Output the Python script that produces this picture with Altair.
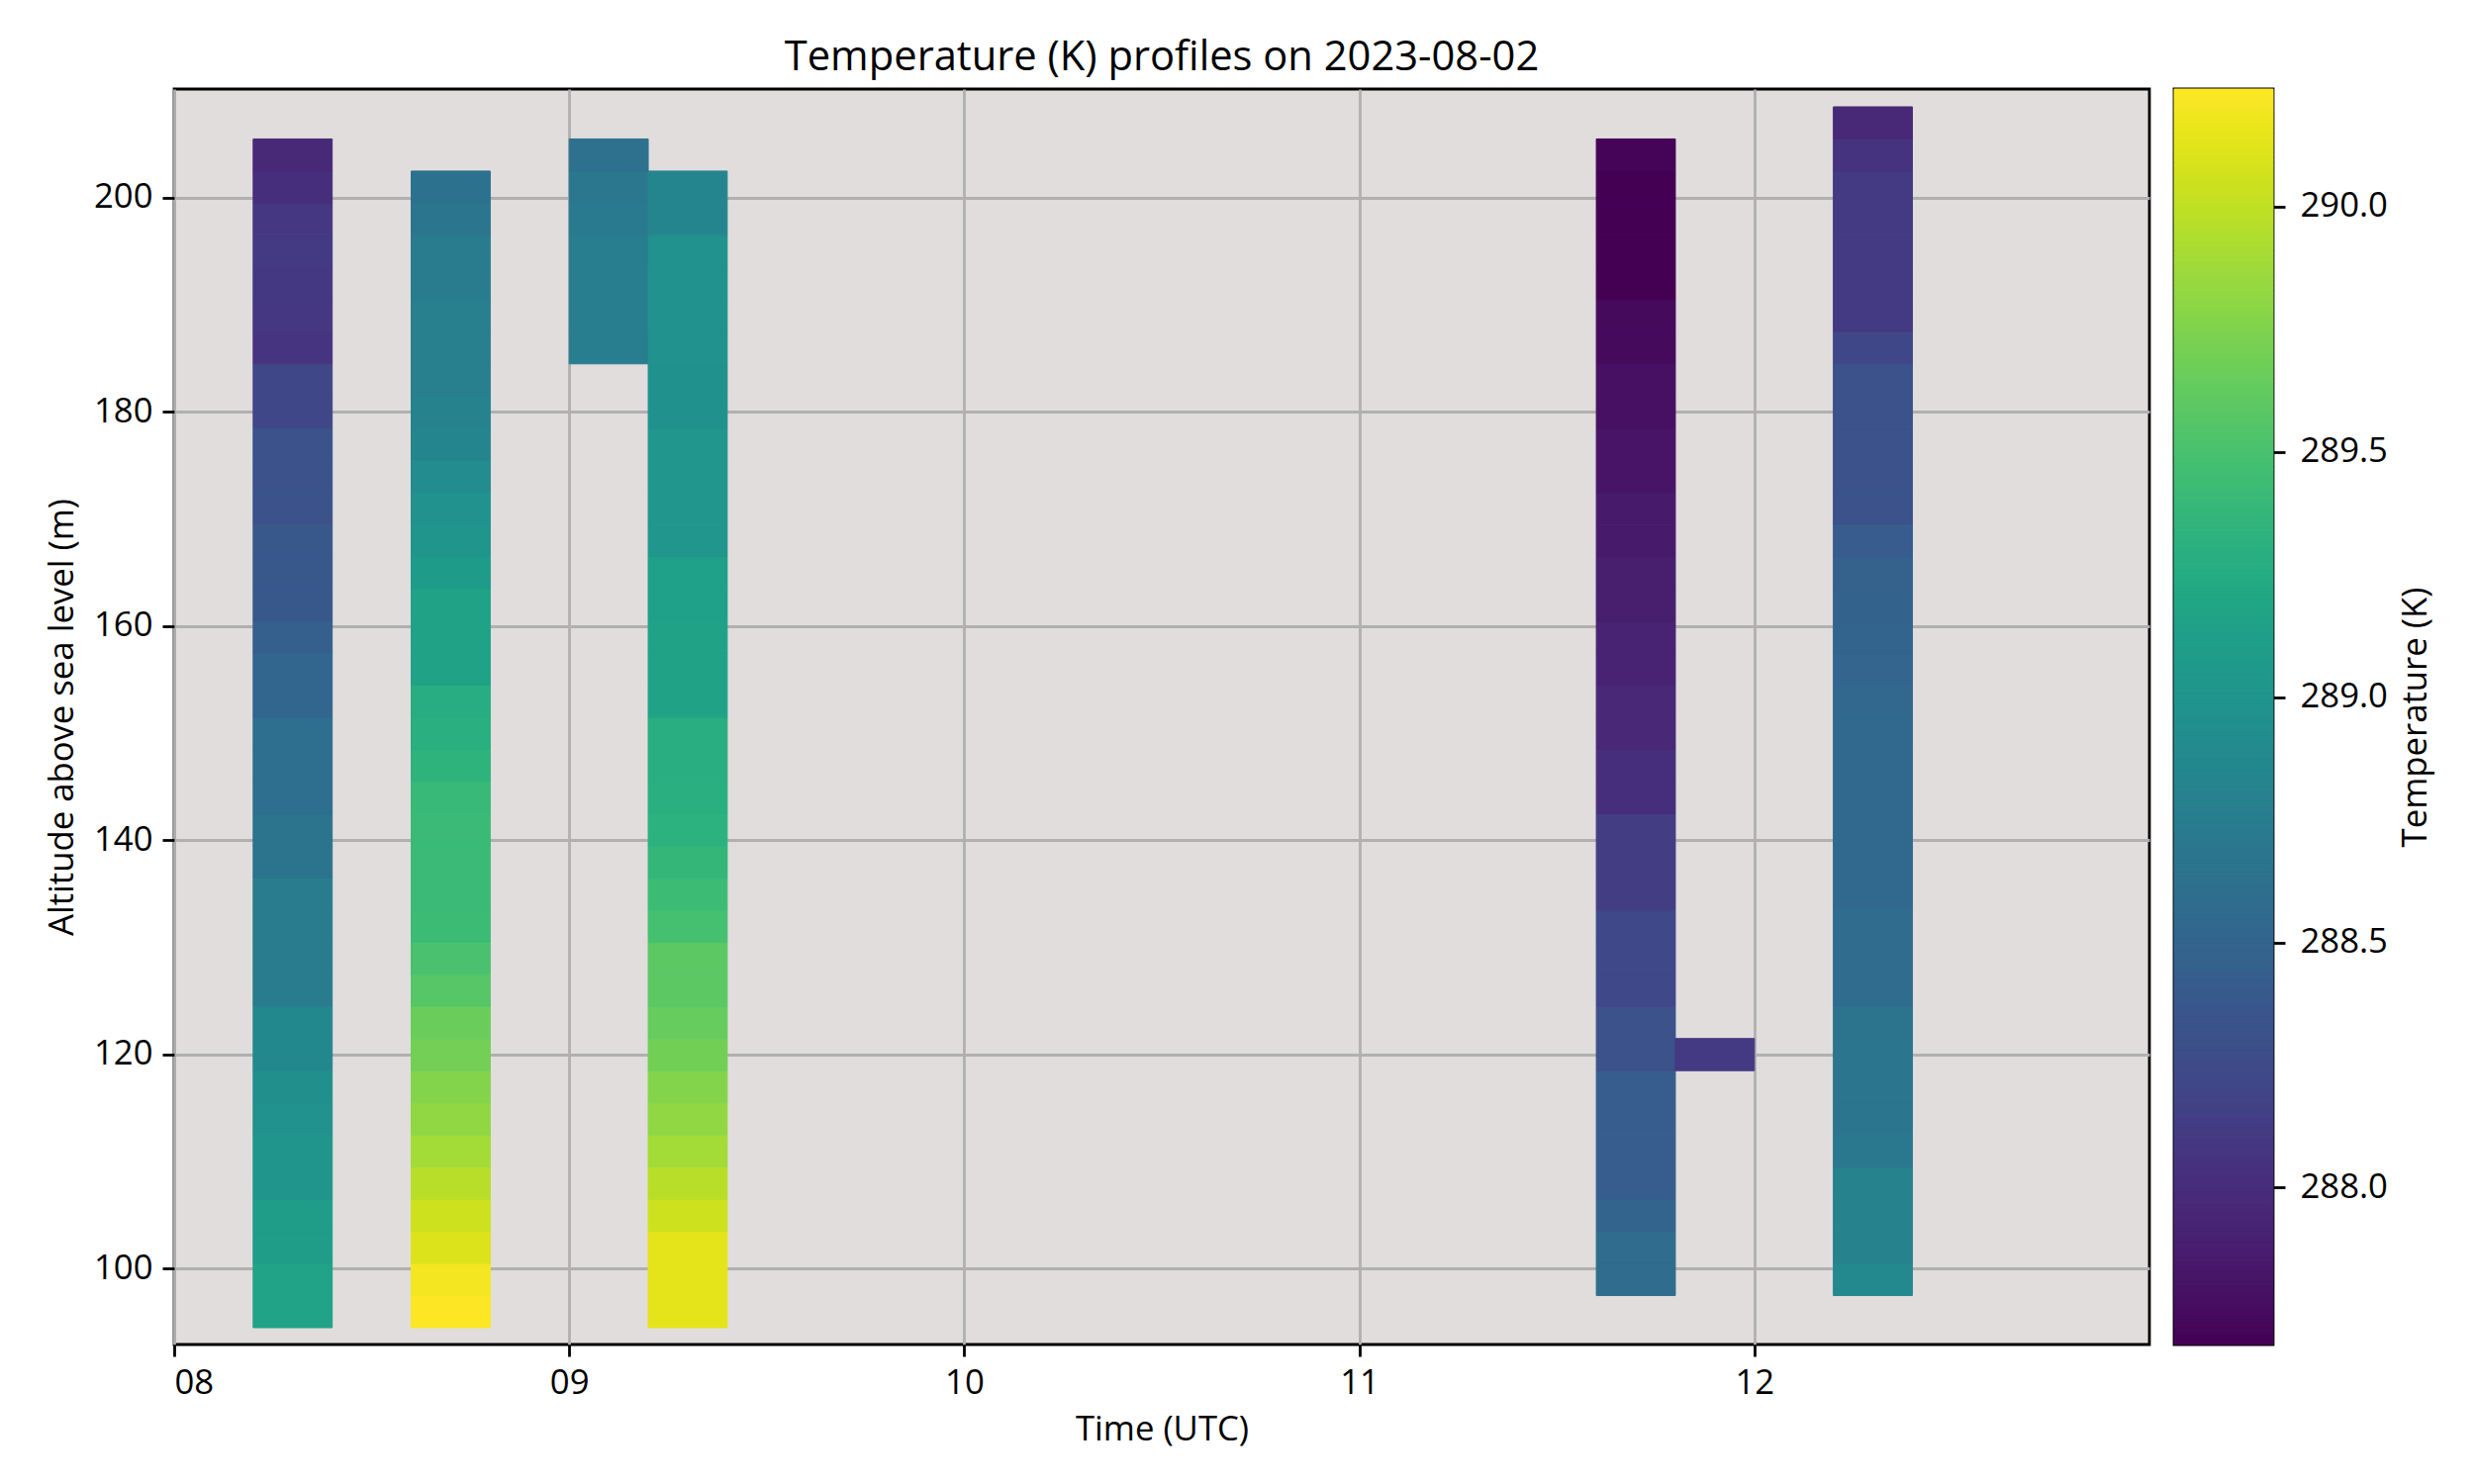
import altair as alt
import pandas as pd
import numpy as np

# ---- data ----
profile_times = ["08:12", "08:36", "09:00", "09:12", "11:36", "11:48", "12:12"]
profile_base_alt = [96, 96, 186, 96, 99, 120, 99]   # centre of lowest 3 m bin

temps_0812 = [289.16, 289.16, 289.10, 289.10, 289.01, 289.01, 288.97, 288.95, 288.87, 288.87,
              288.74, 288.74, 288.74, 288.74, 288.65, 288.65, 288.60, 288.60, 288.60, 288.51,
              288.51, 288.45, 288.38, 288.38, 288.38, 288.32, 288.32, 288.32, 288.22, 288.22,
              288.06, 288.08, 288.09, 288.10, 288.08, 288.01, 287.97]
temps_0836 = [290.24, 290.20, 290.11, 290.05, 289.97, 289.89, 289.82, 289.77, 289.70, 289.66,
              289.57, 289.50, 289.43, 289.42, 289.42, 289.42, 289.41, 289.34, 289.29, 289.27,
              289.15, 289.15, 289.15, 289.08, 289.01, 288.97, 288.91, 288.84, 288.81, 288.77,
              288.77, 288.77, 288.74, 288.74, 288.67, 288.64]
temps_0900 = [288.75, 288.76, 288.76, 288.75, 288.72, 288.69, 288.63]
temps_0912 = [290.14, 290.14, 290.14, 290.05, 289.97, 289.89, 289.82, 289.77, 289.69, 289.64,
              289.59, 289.59, 289.48, 289.43, 289.38, 289.32, 289.29, 289.28, 289.28, 289.15,
              289.15, 289.15, 289.13, 289.13, 289.02, 289.02, 289.02, 289.02, 288.96, 288.96,
              288.97, 288.97, 288.97, 288.97, 288.84, 288.84]
temps_1136 = [288.58, 288.58, 288.49, 288.42, 288.42, 288.42, 288.42, 288.32, 288.32, 288.23,
              288.23, 288.23, 288.13, 288.13, 288.13, 288.01, 288.01, 287.96, 287.96, 287.92,
              287.92, 287.88, 287.88, 287.85, 287.85, 287.81, 287.81, 287.78, 287.78, 287.74,
              287.74, 287.68, 287.68, 287.68, 287.68, 287.70]
temps_1148 = [288.10]
temps_1212 = [288.88, 288.81, 288.81, 288.81, 288.70, 288.68, 288.67, 288.67, 288.66, 288.58,
              288.58, 288.58, 288.54, 288.54, 288.54, 288.54, 288.54, 288.54, 288.52, 288.50,
              288.49, 288.48, 288.47, 288.41, 288.32, 288.32, 288.32, 288.32, 288.32, 288.22,
              288.11, 288.11, 288.11, 288.11, 288.11, 288.05, 287.97]
profile_temps = [temps_0812, temps_0836, temps_0900, temps_0912, temps_1136, temps_1148, temps_1212]

bin_height_m = 3.0
profile_duration_min = 12
temp_domain = [287.68, 290.24]
x_ticks = [8, 9, 10, 11, 12]
y_ticks = [100, 120, 140, 160, 180, 200]
cb_ticks = [288.0, 288.5, 289.0, 289.5, 290.0]

rows = []
for t, base_alt, temps in zip(profile_times, profile_base_alt, profile_temps):
    hh, mm = t.split(":")
    t0 = int(hh) + int(mm) / 60.0
    t1 = t0 + profile_duration_min / 60.0
    for i, v in enumerate(temps):
        c = base_alt + i * bin_height_m
        rows.append({"time": t, "t0": t0, "t1": t1,
                     "a0": c - bin_height_m / 2, "a1": c + bin_height_m / 2, "temp": v})
df = pd.DataFrame(rows)

FONT = "Open Sans"
color_scale = alt.Scale(scheme="viridis", domain=temp_domain)

main = alt.Chart(df).mark_rect(strokeWidth=1).encode(
    x=alt.X("t0:Q", scale=alt.Scale(domain=[8, 13], nice=False, zero=False),
            axis=alt.Axis(values=x_ticks, title="Time (UTC)",
                          labelExpr="(datum.value < 10 ? '0' : '') + datum.value")),
    x2="t1:Q",
    y=alt.Y("a0:Q", scale=alt.Scale(domain=[92.93, 210.16], nice=False, zero=False),
            axis=alt.Axis(values=y_ticks, title="Altitude above sea level (m)")),
    y2="a1:Q",
    color=alt.Color("temp:Q", scale=color_scale, legend=None),
    stroke=alt.Color("temp:Q", scale=color_scale, legend=None),
    tooltip=["time:N", "a0:Q", "a1:Q", "temp:Q"],
).properties(
    width=1996, height=1269,
    title=alt.TitleParams("Temperature (K) profiles on 2023-08-02", fontSize=41.7,
                          fontWeight="normal", font=FONT, color="black", anchor="middle",
                          offset=10),
)

# colour bar drawn from the colour scale itself
cb_levels = np.linspace(temp_domain[0], temp_domain[1], 257)
cbdf = pd.DataFrame({"lo": cb_levels[:-1], "hi": cb_levels[1:],
                     "mid": (cb_levels[:-1] + cb_levels[1:]) / 2})
colorbar = alt.Chart(cbdf).mark_rect(strokeWidth=1).encode(
    x=alt.value(0), x2=alt.value(100),
    y=alt.Y("lo:Q", scale=alt.Scale(domain=temp_domain, nice=False, zero=False),
            axis=alt.Axis(orient="right", values=cb_ticks, format=".1f", grid=False,
                          title="Temperature (K)", titleAngle=270, titleBaseline="top",
                          labelPadding=15, titlePadding=12)),
    y2="hi:Q",
    color=alt.Color("mid:Q", scale=color_scale, legend=None),
    stroke=alt.Color("mid:Q", scale=color_scale, legend=None),
).properties(width=100, height=1269)

chart = alt.hconcat(main, colorbar, spacing=21).resolve_scale(
    y="independent", color="shared"
).properties(
    padding={"left": 36, "top": 28, "right": 5, "bottom": 5}
).configure(font=FONT, background="white").configure_view(
    stroke="black", strokeWidth=2.8, fill="#e0dddc"
).configure_axis(
    labelFontSize=34.7, titleFontSize=34.7, labelColor="black", titleColor="black",
    titleFontWeight="normal", labelFont=FONT, titleFont=FONT,
    tickColor="black", tickWidth=2.8, tickSize=12, labelPadding=10,
    domain=False, gridColor="#b0b0b0", gridWidth=2.8, titlePadding=14,
)

chart.save("out.html", embed_options={"renderer": "svg", "actions": False})
